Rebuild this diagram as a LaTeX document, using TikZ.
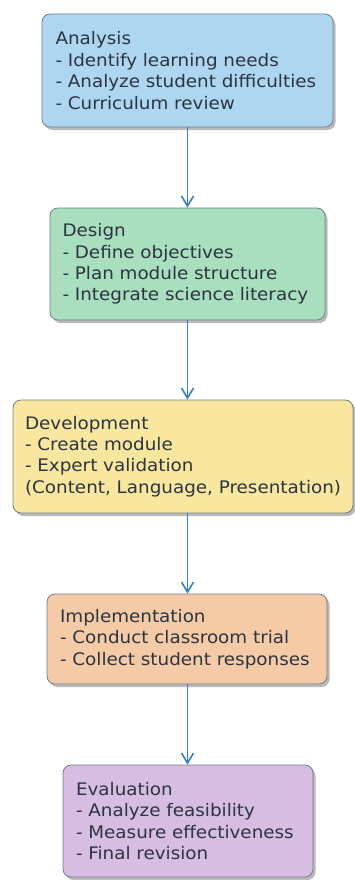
\documentclass[tikz,border=0pt]{standalone}
\usepackage{fontspec}
\setmainfont{DejaVu Sans}[FakeStretch=1.06]
\usetikzlibrary{shadows,arrows.meta}
\definecolor{cA}{HTML}{AED6F1}
\definecolor{cB}{HTML}{A9DFBF}
\definecolor{cC}{HTML}{F9E79F}
\definecolor{cD}{HTML}{F5CBA7}
\definecolor{cE}{HTML}{D7BDE2}
\definecolor{edge}{HTML}{6E7F8A}
\definecolor{arr}{HTML}{3A80C0}
\definecolor{txt}{HTML}{2C3440}
\tikzset{
  stagebox/.style={draw=edge, line width=0.8pt, rounded corners=8pt,
    align=left, inner sep=0pt, anchor=center, text=txt,
    font=\fontsize{17.3}{21.4}\selectfont,
    drop shadow={shadow xshift=2.5pt, shadow yshift=-3pt, opacity=0.45, fill=black!60}},
  flow/.style={draw=arr, line width=1pt, -{Straight Barb[length=10pt,width=12pt,line width=1.6pt]}}
}
\begin{document}
\begin{tikzpicture}[x=1pt,y=1pt]
\useasboundingbox (0,0) rectangle (355,-880);
\node[stagebox, fill=cA, minimum width=291pt, minimum height=113pt, text width=264pt] (a) at (187.5,-70.5)
  {Analysis\\- Identify learning needs\\- Analyze student difficulties\\- Curriculum review};
\node[stagebox, fill=cB, minimum width=275pt, minimum height=112pt, text width=250pt] (b) at (187.5,-264)
  {Design\\- Define objectives\\- Plan module structure\\- Integrate science literacy};
\node[stagebox, fill=cC, minimum width=340pt, minimum height=113pt, text width=316pt] (c) at (183,-456.5)
  {Development\\- Create module\\- Expert validation\\\mbox{(Content, Language, Presentation)}};
\node[stagebox, fill=cD, minimum width=280pt, minimum height=90pt, text width=254pt] (d) at (187,-639)
  {Implementation\\- Conduct classroom trial\\- Collect student responses};
\node[stagebox, fill=cE, minimum width=250pt, minimum height=112pt, text width=224pt] (e) at (188,-821)
  {Evaluation\\- Analyze feasibility\\- Measure effectiveness\\- Final revision};
\draw[flow] (a.south -| 187.5,0) -- (b.north -| 187.5,0);
\draw[flow] (b.south -| 187.5,0) -- (c.north -| 187.5,0);
\draw[flow] (c.south -| 187.5,0) -- (d.north -| 187.5,0);
\draw[flow] (d.south -| 187.5,0) -- (e.north -| 187.5,0);
\end{tikzpicture}
\end{document}
